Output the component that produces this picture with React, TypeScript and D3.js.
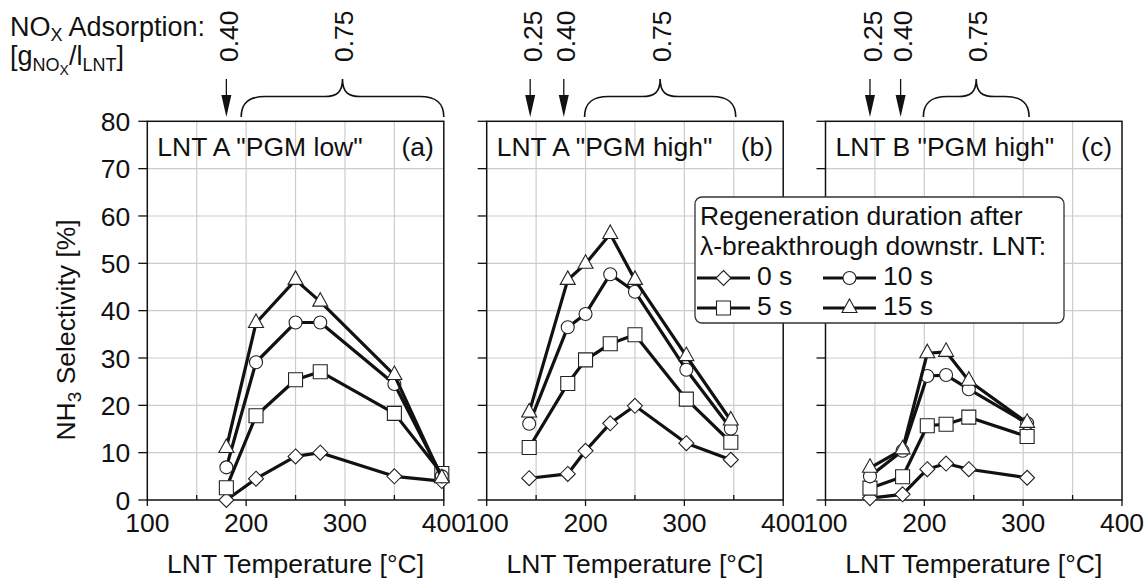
import React from 'react';
import * as d3 from 'd3';

// regeneration duration after lambda-breakthrough
const seriesKeys = ['0 s', '5 s', '10 s', '15 s'];
const markerTypes = ['diamond', 'square', 'circle', 'triangle'];

// panel (a) LNT A "PGM low"
const tempsA = [180, 210, 250, 275, 350, 398];
const selA0 = [0, 4.5, 9.2, 10, 5, 4];
const selA5 = [2.6, 17.8, 25.4, 27.1, 18.3, 5.6];
const selA10 = [6.9, 29.1, 37.5, 37.5, 24.5, 5];
const selA15 = [11, 37.4, 46.5, 41.9, 26.4, 4.6];

// panel (b) LNT A "PGM high"
const tempsB = [143, 182, 200, 225, 250, 302, 347];
const selB0 = [4.6, 5.5, 10.4, 16.2, 19.9, 12, 8.5];
const selB5 = [11.1, 24.6, 29.6, 33, 34.9, 21.3, 12.2];
const selB10 = [16.1, 36.5, 39.3, 47.7, 44, 27.5, 15.1];
const selB15 = [18.5, 46.5, 49.9, 56.2, 46.5, 30.4, 16.8];

// panel (c) LNT B "PGM high"
const tempsC = [145, 178, 203, 222, 245, 304];
const selC0 = [0.4, 1.2, 6.5, 7.7, 6.5, 4.7];
const selC5 = [2.5, 4.9, 15.7, 16, 17.5, 13.4];
const selC10 = [5, 10.4, 26.2, 26.4, 23.4, 16.2];
const selC15 = [6.8, 10.7, 31, 31.3, 25.2, 16.3];

// NOx adsorption annotations above each panel
const arrowTempsA = [180];
const arrowLabelsA = ['0.40'];
const braceA = [195, 400];
const arrowTempsB = [144, 178];
const arrowLabelsB = ['0.25', '0.40'];
const braceB = [199, 352];
const arrowTempsC = [145, 176];
const arrowLabelsC = ['0.25', '0.40'];
const braceC = [199, 306];
const braceLabel = '0.75';

const yTicks = [0, 10, 20, 30, 40, 50, 60, 70, 80];
const xMajor = [100, 200, 300, 400];
const xMinor = [150, 250, 350];

const panels = [
  { title: 'LNT A "PGM low"', tag: '(a)', temps: tempsA, series: [selA0, selA5, selA10, selA15], arrows: arrowTempsA, arrowLabels: arrowLabelsA, brace: braceA },
  { title: 'LNT A "PGM high"', tag: '(b)', temps: tempsB, series: [selB0, selB5, selB10, selB15], arrows: arrowTempsB, arrowLabels: arrowLabelsB, brace: braceB },
  { title: 'LNT B "PGM high"', tag: '(c)', temps: tempsC, series: [selC0, selC5, selC10, selC15], arrows: arrowTempsC, arrowLabels: arrowLabelsC, brace: braceC },
];

const W = 1144;
const H = 578;
const panelLefts = [147.3, 486.7, 825.5];
const panelW = 296.5;
const plotTop = 121.3;
const plotBottom = 500;
const font = '"Liberation Sans", Arial, Helvetica, sans-serif';
const fs = 26.5;
const gridColor = '#cccccc';

function markerPath(type: string) {
  const p = d3.path();
  if (type === 'diamond') {
    p.moveTo(0, -7.5); p.lineTo(7.5, 0); p.lineTo(0, 7.5); p.lineTo(-7.5, 0); p.closePath();
  } else if (type === 'square') {
    p.rect(-7, -7, 14, 14);
  } else if (type === 'circle') {
    p.moveTo(6.5, 0);
    p.arc(0, 0, 6.5, 0, 2 * Math.PI);
  } else {
    p.moveTo(0, -9); p.lineTo(7.5, 4.5); p.lineTo(-7.5, 4.5); p.closePath();
  }
  return p.toString();
}

function bracePath(x0: number, x1: number) {
  const xm = (x0 + x1) / 2;
  const yEnd = 117, yBar = 96.5, yTip = 79;
  const p = d3.path();
  p.moveTo(x0, yEnd);
  p.bezierCurveTo(x0, yBar + 6, x0 + 8, yBar, x0 + 24, yBar);
  p.lineTo(xm - 18, yBar);
  p.bezierCurveTo(xm - 6, yBar, xm, yBar - 4, xm, yTip);
  p.bezierCurveTo(xm, yBar - 4, xm + 6, yBar, xm + 18, yBar);
  p.lineTo(x1 - 24, yBar);
  p.bezierCurveTo(x1 - 8, yBar, x1, yBar + 6, x1, yEnd);
  return p.toString();
}

const Panel = ({ idx }: { idx: number }) => {
  const cfg = panels[idx];
  const left = panelLefts[idx];
  const x = d3.scaleLinear().domain([100, 400]).range([left, left + panelW]);
  const y = d3.scaleLinear().domain([0, 80]).range([plotBottom, plotTop]);
  const gridX = d3.range(150, 400, 50);
  const line = d3.line<number>()
    .x((_, i) => x(cfg.temps[i]))
    .y((d) => y(d));

  return (
    <g>
      {/* grid */}
      {gridX.map((t) => (
        <line key={'gx' + t} x1={x(t)} x2={x(t)} y1={plotTop} y2={plotBottom} stroke={gridColor} strokeWidth={1.2} />
      ))}
      {yTicks.slice(1, -1).map((t) => (
        <line key={'gy' + t} x1={left} x2={left + panelW} y1={y(t)} y2={y(t)} stroke={gridColor} strokeWidth={1.2} />
      ))}
      {/* frame */}
      <rect x={left} y={plotTop} width={panelW} height={plotBottom - plotTop} fill="none" stroke="#111" strokeWidth={1.5} />
      {/* y ticks */}
      {yTicks.map((t) => (
        <line key={'yt' + t} x1={left - 9} x2={left} y1={y(t)} y2={y(t)} stroke="#111" strokeWidth={1.3} />
      ))}
      {idx === 0 && yTicks.map((t) => (
        <text key={'yl' + t} x={left - 17} y={y(t)} dy="0.36em" textAnchor="end" fontSize={fs} fontFamily={font} fill="#111">{t}</text>
      ))}
      {/* x ticks */}
      {xMajor.map((t) => (
        <line key={'xt' + t} x1={x(t)} x2={x(t)} y1={plotBottom} y2={plotBottom + 6} stroke="#111" strokeWidth={1.3} />
      ))}
      {xMinor.map((t) => (
        <line key={'xm' + t} x1={x(t)} x2={x(t)} y1={plotBottom} y2={plotBottom - 5} stroke="#111" strokeWidth={1.3} />
      ))}
      {xMajor.map((t) => (
        <text key={'xl' + t} x={x(t)} y={532} textAnchor="middle" fontSize={fs} fontFamily={font} fill="#111">{t}</text>
      ))}
      <text x={left + panelW / 2} y={573} textAnchor="middle" fontSize={fs} fontFamily={font} fill="#111">LNT Temperature [°C]</text>
      {/* title */}
      <text x={left + 10} y={156} fontSize={fs} fontFamily={font} fill="#111">{cfg.title}</text>
      <text x={left + panelW - 10} y={156} textAnchor="end" fontSize={fs} fontFamily={font} fill="#111">{cfg.tag}</text>
      {/* series */}
      {cfg.series.map((vals, si) => (
        <g key={'s' + si}>
          <path d={line(vals) || ''} fill="none" stroke="#111" strokeWidth={3.2} strokeLinejoin="round" />
          {vals.map((v, i) => (
            <path key={i} d={markerPath(markerTypes[si])} transform={`translate(${x(cfg.temps[i])},${y(v)})`} fill="#fff" stroke="#222" strokeWidth={1.1} />
          ))}
        </g>
      ))}
      {/* annotations */}
      {cfg.arrows.map((t, i) => (
        <g key={'ar' + i}>
          <line x1={x(t)} x2={x(t)} y1={79} y2={100} stroke="#111" strokeWidth={1.3} />
          <path d={`M${x(t) - 5},95L${x(t) + 5},95L${x(t)},117Z`} fill="#111" />
          <text transform={`translate(${x(t) + 2},62) rotate(-90)`} dy="0.36em" fontSize={fs} fontFamily={font} fill="#111">{cfg.arrowLabels[i]}</text>
        </g>
      ))}
      <path d={bracePath(x(cfg.brace[0]), x(cfg.brace[1]))} fill="none" stroke="#111" strokeWidth={1.6} />
      <text transform={`translate(${x((cfg.brace[0] + cfg.brace[1]) / 2) + 1},62) rotate(-90)`} dy="0.36em" fontSize={fs} fontFamily={font} fill="#111">{braceLabel}</text>
    </g>
  );
};

const Legend = () => {
  const lx = 695, ly = 197, lw = 369, lh = 126;
  const colX = [697, 823];
  const rowY = [278, 308];
  return (
    <g>
      <rect x={lx} y={ly} width={lw} height={lh} rx={7} fill="#fff" stroke="#333" strokeWidth={1.3} />
      <text x={lx + 5} y={225} fontSize={fs} fontFamily={font} fill="#111">Regeneration duration after</text>
      <text x={lx + 5} y={255} fontSize={fs} fontFamily={font} fill="#111">λ-breakthrough downstr. LNT:</text>
      {seriesKeys.map((k, i) => {
        const cx = colX[Math.floor(i / 2)];
        const cy = rowY[i % 2];
        return (
          <g key={k}>
            <line x1={cx} x2={cx + 53} y1={cy} y2={cy} stroke="#111" strokeWidth={3.2} />
            <path d={markerPath(markerTypes[i])} transform={`translate(${cx + 26.5},${cy})`} fill="#fff" stroke="#222" strokeWidth={1.1} />
            <text x={cx + 60} y={cy + 7} fontSize={fs} fontFamily={font} fill="#111">{k}</text>
          </g>
        );
      })}
    </g>
  );
};

export default function App() {
  return (
    <svg width={W} height={H} style={{ position: 'absolute', left: 0, top: 0, background: '#fff' }}>
      <rect width={W} height={H} fill="#fff" />
      <text x={10} y={36} fontSize={27} fontFamily={font} fill="#111">
        NO<tspan fontSize={18} dy={5}>X</tspan><tspan dy={-5}> Adsorption:</tspan>
      </text>
      <text x={10} y={65} fontSize={27} fontFamily={font} fill="#111">
        [g<tspan fontSize={18} dy={6}>NO</tspan><tspan fontSize={14} dy={4}>X</tspan><tspan dy={-10}>/l</tspan><tspan fontSize={18} dy={6}>LNT</tspan><tspan dy={-6}>]</tspan>
      </text>
      <text transform="translate(75,330) rotate(-90)" textAnchor="middle" fontSize={fs} fontFamily={font} fill="#111">
        NH<tspan fontSize={19} dy={6}>3</tspan><tspan dy={-6}> Selectivity [%]</tspan>
      </text>
      {panels.map((_, i) => <Panel key={i} idx={i} />)}
      <Legend />
    </svg>
  );
}
